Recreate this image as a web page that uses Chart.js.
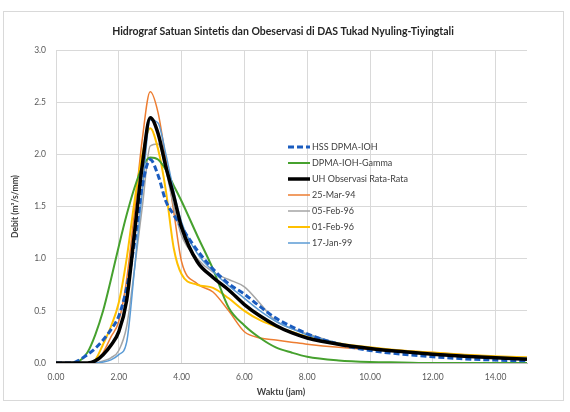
<!DOCTYPE html>
<html>
<head>
<meta charset="utf-8">
<script src="https://cdn.jsdelivr.net/npm/chart.js@4.4.1/dist/chart.umd.min.js"></script>
<style>
html,body{margin:0;padding:0;background:#fff;}
#wrap{width:570px;height:412px;}
</style>
</head>
<body>
<div id="wrap"><canvas id="c" width="570" height="412"></canvas></div>
<script>
const chartTitle = "Hidrograf Satuan Sintetis dan Obeservasi di DAS Tukad Nyuling-Tiyingtali";
const xTitle = "Waktu (jam)";
const yTitle = "Debit (m³/s/mm)";
const seriesNames = ["HSS DPMA-IOH", "DPMA-IOH-Gamma", "UH Observasi Rata-Rata", "25-Mar-94", "05-Feb-96", "01-Feb-96", "17-Jan-99"];

const waktu = [0,0.25,0.5,0.75,1,1.25,1.5,1.75,2,2.25,2.5,2.75,3,3.25,3.5,3.75,4,4.5,5,5.5,6,6.5,7,7.5,8,9,10,11,12,13,14,15];

const hssDpmaIoh = [0,0,0,0.03,0.08,0.14,0.22,0.32,0.45,0.72,1.15,1.7,1.95,1.8,1.55,1.42,1.3,1.08,0.9,0.76,0.66,0.54,0.43,0.35,0.28,0.18,0.12,0.085,0.06,0.04,0.028,0.02];
const dpmaIohGamma = [0,0,0,0.02,0.1,0.27,0.5,0.8,1.12,1.42,1.68,1.88,1.97,1.95,1.85,1.7,1.55,1.22,0.9,0.53,0.36,0.24,0.15,0.1,0.06,0.025,0.01,0.005,0,0,0,0];
const uhObservasi = [0,0,0,0,0,0.02,0.08,0.17,0.3,0.6,1.25,1.9,2.35,2.2,1.88,1.6,1.3,0.97,0.82,0.7,0.56,0.45,0.36,0.29,0.24,0.18,0.14,0.11,0.085,0.065,0.05,0.035];
const mar94 = [0,0,0,0,0,0.02,0.1,0.25,0.4,0.8,1.45,2.15,2.6,2.4,1.95,1.45,0.97,0.76,0.68,0.5,0.3,0.24,0.22,0.2,0.18,0.15,0.13,0.12,0.1,0.08,0.06,0.045];
const feb96a = [0,0,0,0,0,0,0.02,0.05,0.12,0.35,0.9,1.5,2.08,2.1,1.85,1.5,1.22,1.0,0.87,0.8,0.73,0.57,0.4,0.33,0.28,0.19,0.14,0.11,0.09,0.07,0.055,0.045];
const feb96b = [0,0,0,0,0,0.03,0.18,0.35,0.58,1.0,1.55,2.0,2.25,2.05,1.65,1.1,0.85,0.75,0.72,0.62,0.5,0.41,0.35,0.3,0.25,0.19,0.15,0.12,0.1,0.08,0.065,0.055];
const jan99 = [0,0,0,0,0,0,0.01,0.03,0.08,0.2,0.9,1.65,2.33,2.3,2.0,1.65,1.35,1.05,0.88,0.74,0.62,0.5,0.4,0.33,0.27,0.19,0.14,0.11,0.09,0.07,0.055,0.045];

const xTicks = [0,2,4,6,8,10,12,14];
const yTicks = [0,0.5,1.0,1.5,2.0,2.5,3.0];

function pts(vals){ return waktu.map((t,i)=>({x:t,y:vals[i]})); }

const FONT = 'Lato, "Liberation Sans", Arial, sans-serif';

const styles = [
  {color:'#1a5cbf', width:3, dash:[6,3]},
  {color:'#46a12e', width:2, dash:[]},
  {color:'#000000', width:3.5, dash:[]},
  {color:'#ed7d31', width:1.5, dash:[]},
  {color:'#a5a5a5', width:1.5, dash:[]},
  {color:'#ffc000', width:2, dash:[]},
  {color:'#5b9bd5', width:1.5, dash:[]}
];
const seriesVals = [hssDpmaIoh, dpmaIohGamma, uhObservasi, mar94, feb96a, feb96b, jan99];

const datasets = seriesVals.map((v,i)=>({
  label: seriesNames[i],
  data: pts(v),
  borderColor: styles[i].color,
  backgroundColor: styles[i].color,
  borderWidth: styles[i].width,
  borderDash: styles[i].dash,
  pointRadius: 0,
  fill: false,
  cubicInterpolationMode: 'monotone',
  order: [1,3,0,6,5,4,2][i]
}));

const frameAndText = {
  id: 'frameAndText',
  beforeDraw(chart){
    const ctx = chart.ctx;
    ctx.save();
    ctx.fillStyle = '#fff';
    ctx.fillRect(0,0,chart.width,chart.height);
    ctx.strokeStyle = '#d9d9d9';
    ctx.lineWidth = 1;
    ctx.strokeRect(3.5, 11.5, 560, 389);
    ctx.restore();
  },
  afterDraw(chart){
    const ctx = chart.ctx;
    ctx.save();
    ctx.fillStyle = '#262626';
    ctx.font = 'bold 10.5px ' + FONT;
    ctx.textAlign = 'center';
    ctx.textBaseline = 'middle';
    ctx.fillText(chartTitle, 283, 32);
    ctx.fillStyle = '#404040';
    ctx.font = 'bold 9px ' + FONT;
    ctx.fillText(xTitle, 281, 392);
    // legend
    const lx = 288, ly = 147, step = 16;
    ctx.font = '9px ' + FONT;
    ctx.textAlign = 'left';
    chart.data.datasets.forEach((ds,i)=>{
      const y = ly + i*step;
      ctx.beginPath();
      ctx.strokeStyle = ds.borderColor;
      ctx.lineWidth = ds.borderWidth;
      ctx.setLineDash(ds.borderDash || []);
      ctx.moveTo(lx, y);
      ctx.lineTo(lx+22, y);
      ctx.stroke();
      ctx.setLineDash([]);
      ctx.fillStyle = '#404040';
      ctx.fillText(ds.label, lx+24, y+0.5);
    });
    ctx.restore();
  }
};

new Chart(document.getElementById('c'), {
  type: 'line',
  data: { datasets },
  options: {
    responsive: false,
    devicePixelRatio: 1,
    animation: false,
    layout: { padding: { left: 10, top: 50, right: 43, bottom: 10 } },
    plugins: { legend: { display: false }, title: { display: false }, tooltip: { enabled: false } },
    scales: {
      x: {
        type: 'linear', min: 0, max: 15,
        afterFit(s){ s.height = 39; },
        afterBuildTicks(s){ s.ticks = xTicks.map(v=>({value:v})); },
        grid: { color: '#d9d9d9', drawTicks: false, lineWidth: 1 },
        border: { display: true, color: '#bfbfbf' },
        ticks: { padding: 9, color: '#595959', font: { size: 8.5, family: FONT }, callback: v => Number(v).toFixed(2), maxRotation: 0 },
        title: { display: false }
      },
      y: {
        type: 'linear', min: 0, max: 3,
        afterFit(s){ s.width = 46; },
        afterBuildTicks(s){ s.ticks = yTicks.map(v=>({value:v})); },
        grid: { color: '#d9d9d9', drawTicks: false },
        border: { display: false },
        ticks: { padding: 10, color: '#595959', font: { size: 8.5, family: FONT }, callback: v => Number(v).toFixed(1) },
        title: { display: true, text: yTitle, color: '#404040', font: { size: 8.5, weight: 'bold', family: FONT }, padding: { top: 0, bottom: 4 } }
      }
    }
  },
  plugins: [frameAndText]
});
</script>
</body>
</html>
